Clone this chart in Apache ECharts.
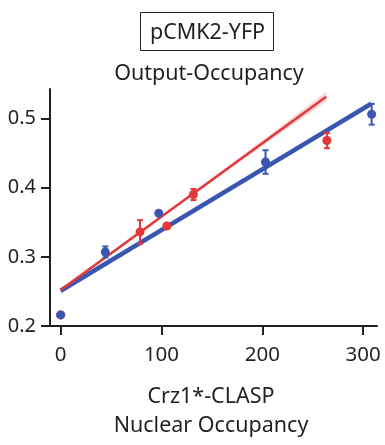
<!DOCTYPE html>
<html>
<head>
<meta charset="utf-8">
<script src="https://cdn.jsdelivr.net/npm/echarts@6/dist/echarts.min.js"></script>
<style>
  html, body { margin: 0; padding: 0; background: #fff; }
  #chart { width: 385px; height: 445px; }
</style>
</head>
<body>
<div id="chart"></div>
<script>
// Measured points: x = Crz1*-CLASP nuclear occupancy, y = output occupancy, err = SEM
const blueX   = [0, 44.3, 97.3, 203.2, 308.5];
const blueY   = [0.216, 0.307, 0.363, 0.437, 0.506];
const blueErr = [0, 0.008, 0, 0.017, 0.015];

const redX    = [0, 78.7, 105.3, 131.7, 264.1];
const redY    = [0.216, 0.336, 0.3445, 0.390, 0.468];
const redErr  = [0, 0.017, 0, 0.008, 0.011];

// Linear fits (endpoints) and their confidence bands
const blueFitX = [0, 307.8];
const blueFitY = [0.251, 0.521];
const blueBandX  = [0, 100, 200, 307.8];
const blueBandHW = [0.004, 0.003, 0.003, 0.004];

const redFitX = [0, 263.4];
const redFitY = [0.252, 0.5314];
const redBandX  = [0, 65, 130, 200, 263.4];
const redBandHW = [0.003, 0.002, 0.002, 0.004, 0.007];

const xTicks = [0, 100, 200, 300];
const yTicks = [0.2, 0.3, 0.4, 0.5];

const RED = '#e5373a';
const BLUE = '#3a57b0';
const INK = '#231f20';
const FONT = 'Noto Sans';

function fitAt(fx, fy, x) {
  return fy[0] + (fy[1] - fy[0]) * (x - fx[0]) / (fx[1] - fx[0]);
}

function bandSeries(bx, hw, fx, fy, color) {
  return {
    type: 'custom',
    silent: true,
    clip: false,
    z: 1,
    data: [0],
    renderItem: function (params, api) {
      const upper = bx.map((x, i) => api.coord([x, fitAt(fx, fy, x) + hw[i]]));
      const lower = bx.map((x, i) => api.coord([x, fitAt(fx, fy, x) - hw[i]])).reverse();
      return {
        type: 'polygon',
        shape: { points: upper.concat(lower) },
        style: { fill: color }
      };
    }
  };
}

function errSeries(xs, ys, es, color, z) {
  return {
    type: 'custom',
    silent: true,
    clip: false,
    z: z,
    data: xs.map((x, i) => [x, ys[i], es[i]]),
    renderItem: function (params, api) {
      const x = api.value(0), y = api.value(1), e = api.value(2);
      if (!e) return null;
      const top = api.coord([x, y + e]);
      const bot = api.coord([x, y - e]);
      const hw = 3;
      const st = { stroke: color, lineWidth: 2 };
      return {
        type: 'group',
        children: [
          { type: 'line', shape: { x1: top[0], y1: top[1], x2: bot[0], y2: bot[1] }, style: st },
          { type: 'line', shape: { x1: top[0] - hw, y1: top[1], x2: top[0] + hw, y2: top[1] }, style: st },
          { type: 'line', shape: { x1: bot[0] - hw, y1: bot[1], x2: bot[0] + hw, y2: bot[1] }, style: st }
        ]
      };
    }
  };
}

function pointSeries(xs, ys, color, z) {
  return {
    type: 'scatter',
    silent: true,
    clip: false,
    z: z,
    symbol: 'circle',
    symbolSize: 9,
    itemStyle: { color: color, opacity: 1 },
    data: xs.map((x, i) => [x, ys[i]])
  };
}

function fitSeries(fx, fy, color, width, z) {
  return {
    type: 'line',
    silent: true,
    clip: false,
    z: z,
    symbol: 'none',
    lineStyle: { color: color, width: width, cap: 'butt' },
    data: fx.map((x, i) => [x, fy[i]])
  };
}

const chart = echarts.init(document.getElementById('chart'), null, { renderer: 'canvas' });

chart.setOption({
  animation: false,
  backgroundColor: '#fff',
  textStyle: { fontFamily: FONT, color: INK },
  grid: { left: 50, top: 89, right: 8, bottom: 119, containLabel: false },
  graphic: [
    {
      type: 'rect',
      shape: { x: 140.5, y: 12.5, width: 133, height: 38 },
      style: { fill: 'none', stroke: INK, lineWidth: 1 }
    },
    {
      type: 'text',
      x: 207.5, y: 33,
      style: { text: 'pCMK2-YFP', fontFamily: FONT, fontSize: 21.5, fill: INK, align: 'center', verticalAlign: 'middle' }
    },
    {
      type: 'text',
      x: 209, y: 74,
      style: { text: 'Output-Occupancy', fontFamily: FONT, fontSize: 21.5, fill: INK, align: 'center', verticalAlign: 'middle' }
    }
  ],
  xAxis: {
    type: 'value',
    min: -10.6,
    max: 313.8,
    splitLine: { show: false },
    axisLine: { show: true, onZero: false, lineStyle: { color: INK, width: 2 } },
    axisTick: { show: true, customValues: xTicks, length: 9, lineStyle: { color: INK, width: 2 } },
    axisLabel: { customValues: xTicks, fontFamily: FONT, fontSize: 20.5, color: INK, margin: 19 },
    name: 'Crz1*-CLASP\nNuclear Occupancy',
    nameLocation: 'middle',
    nameGap: 56,
    nameTextStyle: { fontFamily: FONT, fontSize: 21.5, color: INK, lineHeight: 29, padding: [0, 5, 0, 0] }
  },
  yAxis: {
    type: 'value',
    min: 0.2,
    max: 0.5425,
    splitLine: { show: false },
    axisLine: { show: true, onZero: false, lineStyle: { color: INK, width: 2 } },
    axisTick: { show: true, customValues: yTicks, length: 9, lineStyle: { color: INK, width: 2 } },
    axisLabel: {
      customValues: yTicks, fontFamily: FONT, fontSize: 20, color: INK, margin: 14,
      formatter: v => v.toFixed(1)
    }
  },
  series: [
    bandSeries(blueBandX, blueBandHW, blueFitX, blueFitY, 'rgba(90,115,200,0.45)'),
    bandSeries(redBandX, redBandHW, redFitX, redFitY, 'rgba(240,140,145,0.35)'),
    fitSeries(blueFitX, blueFitY, BLUE, 4.5, 2),
    fitSeries(redFitX, redFitY, RED, 2.5, 3),
    errSeries(redX, redY, redErr, RED, 4),
    pointSeries(redX, redY, RED, 4),
    errSeries(blueX, blueY, blueErr, BLUE, 5),
    pointSeries(blueX, blueY, BLUE, 5)
  ]
});
</script>
</body>
</html>
